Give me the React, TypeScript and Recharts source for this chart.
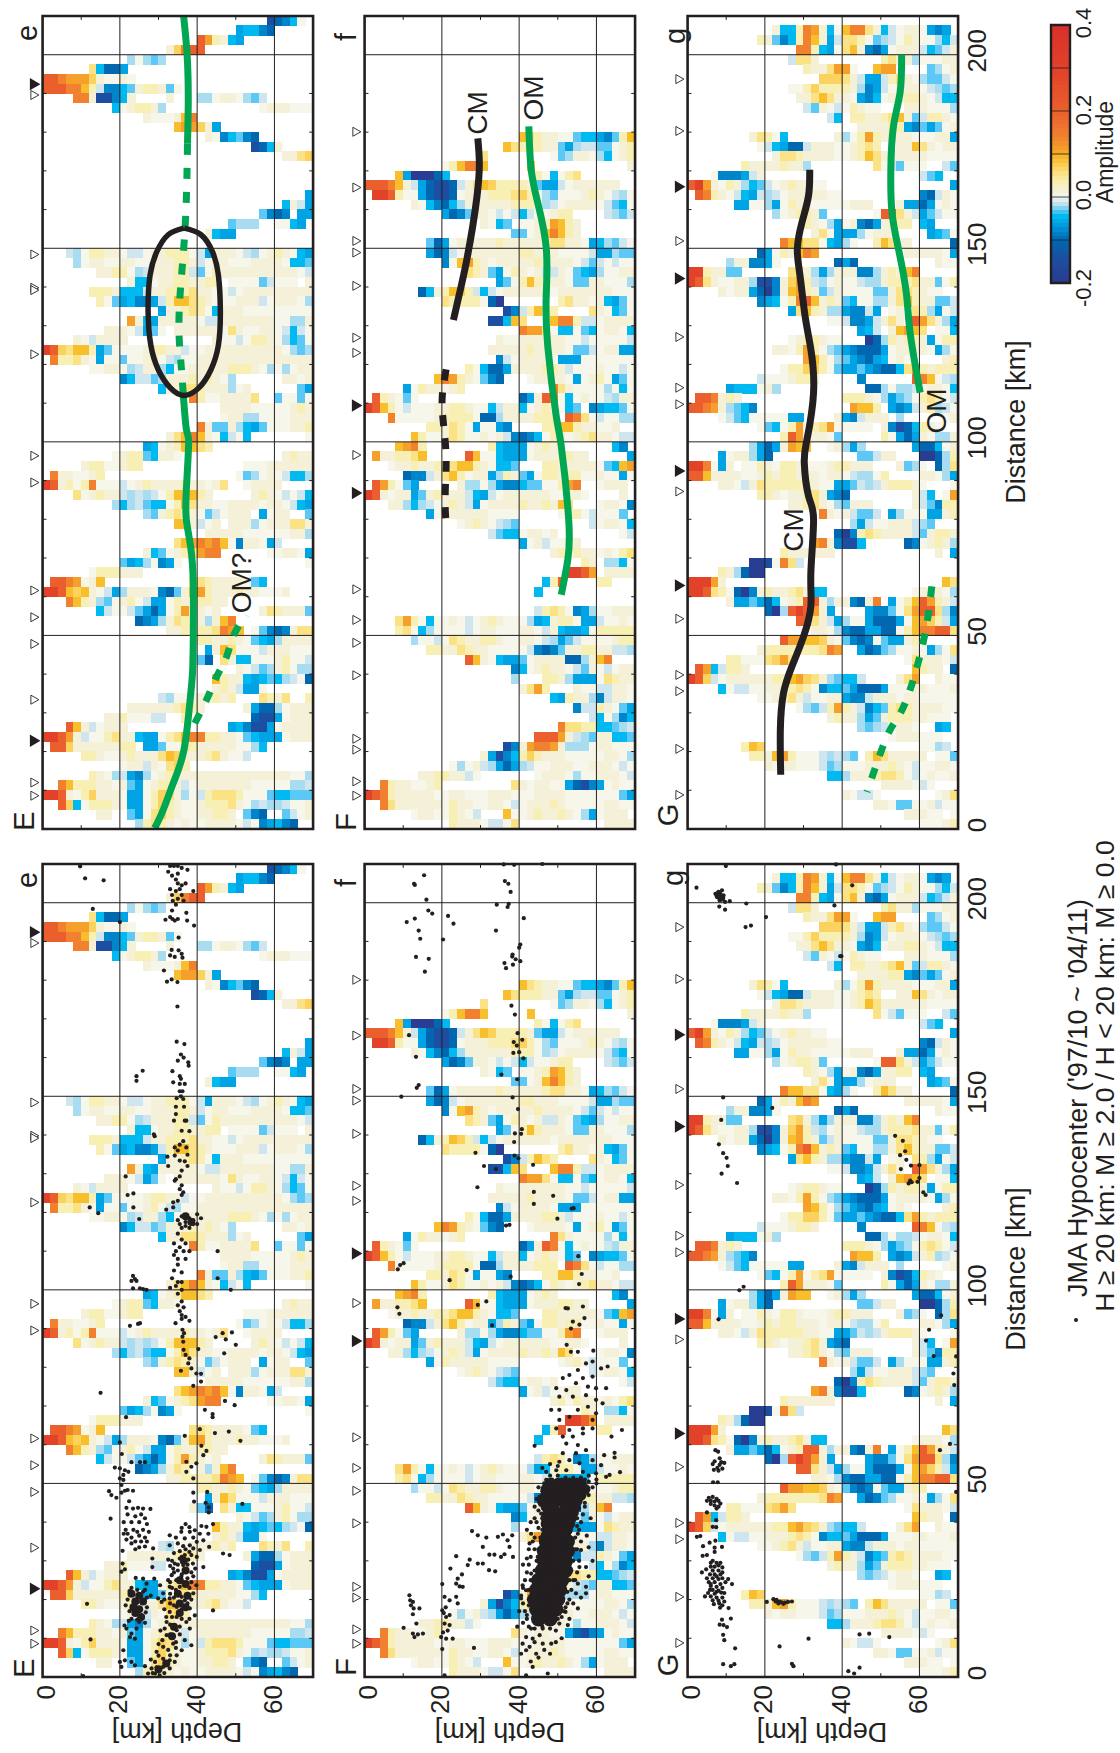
import React from "react";
import { ScatterChart, Scatter, XAxis, YAxis, ReferenceLine, ReferenceArea } from "recharts";

// ---------- amplitude letters used by the receiver-function rows ----------
const AMP: Record<string, number> = {
  N: -0.19, B: -0.14, C: -0.1, D: -0.08, E: -0.06, F: -0.045, G: -0.03, H: -0.02, I: -0.01,
  a: 0.003, b: 0.015, c: 0.035, d: 0.055, e: 0.07, n: 0.09, o: 0.11, p: 0.14, q: 0.2, r: 0.3, s: 0.38,
};
const colorStops: [number, string][] = [
  [-0.2, "#2b3990"], [-0.14, "#1c4fa1"], [-0.1, "#0067b0"], [-0.08, "#0085ca"], [-0.06, "#00a4e4"],
  [-0.045, "#00b9f1"], [-0.03, "#5cc8f5"], [-0.02, "#a8dcf0"], [-0.01, "#cfe6ee"], [0, "#f6f7ee"],
  [0.015, "#f4f1d8"], [0.035, "#f8efb4"], [0.055, "#fbe285"], [0.07, "#fcd25f"], [0.09, "#f8be2c"],
  [0.11, "#f5a02a"], [0.14, "#f1812f"], [0.2, "#ea5f2d"], [0.3, "#e2412a"], [0.4, "#d9302a"],
];

// Rows run from distance 207.5-210 km (first) to 0-2.5 km (last). Each token = first depth bin + letters.
const heatE = [
  "29BCDFa", "25EFFDC", "20qocbFE", "16bepqq", "11HaHGH", "6dFCCE", "0qqpoooebaaba", "0qqqppncIDDFGbccbGa",
  "4ppbBBDFb 16b 20HHabbaHGI", "9FabccbH 28abbbaaa", "13baaabnp", "17nooebE", "21baDFGDC", "27BCFb", "31bbde",
  "", "", "", "34E", "31FbIE", "28GDCD 33EE", "24GHHH 30aaFE", "21bFEE", "",
  "3IHaccbbaIIabbcccaIEbbbaIHabcbaFE", "4HabbaabbaabbbccbIabbaaabbbbaFFG", "7bbccaHIbbbccIGacbbbbbbbbbbaI",
  "11bFFabbccbbcc 24aaaaGIaaa 34b", "6cccbFFFIbbcccdbbaaIabbbbbbbbb", "7caGEFDDEIcnndcbaaabbbIabbbaH",
  "15EbbcdcaFbbbaaaaaaaaa", "11obFEbbbbbaIIbbbbbbbaaHHb", "8bbbaIEGa 17bbbbbbadbaabbaIFIa", "4baIbbbb 22baaIaccbaHFGa",
  "0rqednncEGaaaabccbbIaabbbbbbbbbbaHGH", "1pccdbaEaaGaabcaIHaabbbbbbbbbbbbbbb", "6aabbaHIbbHFaabbbbbcccbaHaHabb",
  "10DFIIGHbbbcbcba 24H 31bbab", "15Fbbddcbbb 24Hab 33GE", "19pcaabbbbd 30GaaGa", "23bbbbaaaaabcb", "23abbHHaaaabbb",
  "20pbGGbHFEGaaabbc", "16bdnpnbaFIaF 34a", "13EFabcnndc", "9abccGFbba 31bcbb", "5bccaabcc 26aaabbbbbb",
  "1pbbaabc 25aGHabaIFFH", "0rqbcacpaaaIabcbbbbcbbabd 26abbbb", "4dabcbbIHIHIacnnncb 27bcbaIaIF",
  "9HFHIGFFacndbbaabbbbabbaIFE", "13HGbcdcbaGIabbb 28Eabb 34G", "17nnbIab 24bbbHabbbddb", "21bbbbbaaaaaabbH",
  "17dnopopnaDbbaEI", "13bFGabcdopp 29aabbaE", "10GEFHaDEa 34a", "6acccbbb", "1qqpoabn 19ddcbbbbaGF",
  "0rrqnenbaIEHbbbaDCGbnocbbbcbbaaab", "3pncbHGabcaIEEacbbccbb", "7FIaaIGECEacocbab 28bdcbbbG", "12CDEHbdc 20bHbnp",
  "16bbccccdpon 27aGDCDbdd", "20ccbbcbaGFEHbbbb", "21EbndaaaIbbbaaa", "19bGC 23dbFFaaabcaaI", "25baIGHbcaHH",
  "22ncbbFEFGFHIaC", "22bcbIEEa", "15IHaabbbcbc 28dcbd 34c", "11bbbbbbcdcb 26bECCHabbb", "8bbcaaaII 18c 27CBBEabbb",
  "3qnbIabbb 24EFDBBEabbbb", "0rrqobIaacdbbFEEacdnppccbbaGFEEEabbb", "1qqebbbbbbcc 13EEGaadcbbbbbaaHF",
  "5ccbaabcbbbdnebbbcdbaaI", "10abbIbadec", "6cbaHIEDHabcbbbbbbbbbbbbbbbaaH", "2pncccbbabGEabccbIabbbbbbbaaaaaHHI",
  "0rrqbacebbbaEEacedbHaIcdddcaaaGFFGGG", "2qeFacccbaEEacecbaabcccdbaHIHHIaab", "7bb 11GEadecbaabbccb 26GDC 31GIab",
  "12HcdcbabaabbbbaIaDEFDC",
];
const heatF = [
  "", "", "", "", "", "", "", "", "", "", "", "",
  "20ndcbbaaGFFEDGcn", "18ndcccbbGEHIIGGabc", "15d 24aGHbbaHFabc", "10acnppn 21n 34b", "4nENNNCF 22caFacd",
  "0qqqpnbIECBBCIbdneccccbGEEIabbbbbb", "1rrqcaaECBBCabbbcccdecaHGaaabcbaIHa", "6baFDCFHbbbbbbcccaHIabbbbaIGFa",
  "10ECDGbbaIaIFIaabcc 31IHGI", "15baFG 20aabconcb", "19GGabnpncb", "8GCEabbbbbcbbbbbcddbbaEFHGIa",
  "8ECDIabbbbbbbccbbbaaaaIEEHGG", "10DanocbabbbbbcbbbbaIGIaIaa", "13dcbGEacbabIIbaGFEHaabb", "17EGacncbbbaGGbbaaaH",
  "7CFbcnecIFIabbbbbbabbbbbbbaaa", "10dccccaCN 25cdbbabFEGa", "18BDIcndc 29dbaFGa", "16BBFnd 24nppcIIabbbb",
  "20poodaFFaGFabbaF", "17baabbbbbbaaIaaaaaI", "16bbbbbcbbbbaGGIabbEE", "17DIabbbbaEEEaaaaaaa", "13caFCCEbbbbccbIaaabaaIa",
  "9npocbaGDC 21abbbbaEabcaEGa", "5Eacbbabc 24pdbaaaaHaFa", "1qcbaGa 20CEbqpaFabaaIHbb",
  "0rqncaIaaabbccbaaFIbbFabcbaFG 29DEFFGa", "3paaaaabccccaCCHbbbbccc 26qpdaIaaHH", "8ccbdcaEaaED 23ccnncbbaab",
  "6ncaabdcaababIDCDFacbabcdbbaII", "4nopc 16cFEEEabcb 32FD", "1obbccdn 13qnaaFEEEabbbccbb 34E", "3abbcbbccdnncbaFFG 23ccbbbbbaGFno",
  "5CDDIbdncabbEHcbGEaccbccaabaaEa", "1qocaGE 12bHHaHEDDFGGaacop 30abbb", "0rqbabbEGbcbbbIFEIabbbbbbaabba 33b",
  "3bbHFHIabcbIEabbbbcbbcbnd 30abbaD", "8Eacbbbbbaaaa 25abcaIaaaG", "12abcbaIHG 29IabbaF", "16IGFFabbab 33aI",
  "20EabIaabb", "24bcacbbabacd", "28cb 31HHFa", "26rrqo 31bbbb", "23Fcq 30cc", "22F", "",
  "22IcdcaDEHaabbb", "4docaFaabaIabcbaaaHEFbccaEEIaaba", "4cdaFHaaaaIabbaaabbaIbFEEFaccccc", "6HaaIadcbbccbaabbaIHEGIaaaabcc",
  "8ccbbdcbbaaaaaIDCDGbbccbbIIH", "13qnbaFEEGabbbbCCHbnp", "19DFabcbbaIGbaIabb", "19H 23ccbHEEEadcbb", "20bdoc 27baaIIbba",
  "24FEcbbHDIbba", "27DIIcbaGE", "29IFaHDF", "25pddccFFGHI", "22qqqobIHGbbFFG", "18BDboppobHHHabbaaa", "15bEBDFcecbbbaaaaabbaH",
  "11aHabIHECEHIaabbbaabbbaIa", "7bbccbbIa 22abbbaHaabbbaI", "2pcbbaabc 19dbabbaaECBDEabaa", "0rqpcbbbbbaabbaaabbbaaabbbbaaaaaaaGE",
  "2pdbbbbbbacbbaabbaIabbbcbaaaaabbaa", "6abbaacbaI 18naabcbbcbaHEabbb", "11cbbbaIIad 31bbbb",
];
const heatG = [
  "", "11bFFcpobFanppdbFIabbaEDE", "9cbGDFcpnbEIddcaGHIacbaaHFI", "14ppcFEadnbDCEabbbIFGIb", "13Iddb 25cdbbHaaabb",
  "15cbbdooa 24noo 31GHab", "17eeedbIEEIcdbaHGGIa", "13aaceccccbHDEIabbbaIHGH", "14bbdndbbaEDFabbccbaIFF", "15IGbaIacbaa 28bbbaaaH",
  "18IF 21ccbbcdnbGIccba", "22bbbbccEDGEGab", "8bdcaF 19bHacocbbbbaaabbE", "9aIFECCIbbbaabcdc 27bbndbabb",
  "11bddcbbbbaabcndbbbbbbaaaa", "7cbbbbcbbH 24daIGaaa 33IG", "3aDDDEIb 30IGF", "0qrobacbHFGIabcbbaa 34E",
  "1qpcbaIFEIHIabbbbbaa 30DCIba", "6EEaaHEacbbaaaaabbb 27bEECEaba", "11HabccbG 24aqqdbIEGIaa", "15cbaHEabDCEbbcc 30FE",
  "16bdaEEEHabbb 31EFGa", "12pnnddaFEHa 24cndbb 34C", "9CEacbnpo 28bbbbbaE", "5HbbDDEa 19CEC 32baa",
  "0rrcbbGG 13debHEHbbbDDHbcbnp", "0rqdbaabbHBBDbeocIHabaaIHHbcccdbbGac", "4babbECNDbnocbGIbaaaaGGbddcbaa",
  "9DEFacpqnbcbGFaaHHbdncbbGGI", "13EdncbHHEDDIE 26ab 29dcHEaI", "18aaIDDEIbdb 29qodbHE", "22EFI 26bnond 32aaF",
  "13abccbaa 23NCHcbccbEacc", "11bbacocaHGEDCCCEabbbbaEHa", "15oncaHGEDCEFaba 33bc", "12acceecaGEEGEDCCFdocbccc",
  "9Iaaabccb 22D 29qpnaIH", "5EFFFabH 23CCHaHHIabbaF", "1qqpbcb 20cccbaHEGHacdcaI", "0qqpobHGFD 21onnc 26EDEIbcHIa",
  "4aIGFaaaaaEE 19bEDIbbb 27H 33ab", "9aGFacoacdoaaaaa 25bDBCFcba", "12cqobbbaG 25caECEbaHHb", "8HECEbonn 18abHEH 29ECCFab",
  "4EabbHEC 22GGIbb 30NNCHc", "0rrpaEb 7aacbaccbaaabccbbb 27bGHa 32CHd", "0qqnbbbbaabcbccbbbabbaIHHac 30bbaHE",
  "4bbaIbdcccccbbaaEEGIHIbcccba 34a", "9ccbabbcdbEDC 29bIF 33ao", "13bbcdbaHGbbb 29bIGDcc", "17pbabIGGI 26EHaaaEEbc",
  "21HEIaabbbIHG", "19CNDcdcbbbbIGbccb", "16opbDBBF 28CDabcbH", "12cbbbbbb 32b 34E", "8NNBapdI", "4cbHCNN", "0rrrob 33nd",
  "0rrqdcaCNDbcbbcdbFF 29abbbaH", "5bEEGECFabcqqbHbbDCbp 26EacnqocbI", "10CNHqrqobE 23EDDGadoqqdHD", "14qqdbIEHaaECCCEanoecIE",
  "16bbaHDCCEECCacnppqqd", "12qoonnebaGDCDaGEEbcc", "9bcccccccdpo 22ECDGHaabaEHad", "5ccaaadeod 28adbbbaI", "1qoFIccb 29ncbb 34C",
  "0rqeIabbbbbbccnoedbHGFFI 27bdo 32baa", "4FaIIaabbbcdcaDFFGECCCEaaabbaaab", "9aabcdbIaabbEDDIbbbabbaaaaa", "14aHGIcocbIDFGcdcbbbbaa",
  "18bcbbHEGbcccbbaaa", "22HGHIabba 32EF", "26abbbaaa", "7cne 30aaHI", "8ccbnocaaaIHIHG 23cndbbbbb 32aaG",
  "10babbaaaIGHaaabbbcbaIaabba", "18FFHbbbcddcaIabaab", "25bbbbaIa", "20baIIa 32abd", "24bbaGGaabIaa", "28bbbaa 34a", "30aaabc",
];

// ---------- volcano-like markers (km along the profile) ----------
const openE = [189.6, 148.4, 139.8, 139.2, 122.6, 96.4, 89.5, 61.6, 54.7, 47.8, 33.4, 12, 8.6];
const solidE = [192.4, 22.8];
const openF = [180.1, 165.7, 151.9, 148.9, 140.3, 126.9, 123, 96.6, 61.9, 54, 48.1, 39.7, 23.3, 20.5, 12.3, 8.6];
const solidF = [109.4, 86.8];
const openG = [193.7, 180.3, 151.9, 127.1, 114, 109.7, 87.2, 54.3, 39.8, 35.6, 20.7, 8.8];
const solidG = [165.9, 142.2, 92.5, 62.9];

// ---------- hypocenters: depth, distance, depth, distance ... ----------
const dotsE = [
  9.7,209.4, 11,206.3, 15.8,205.8, 33,209.5, 34,209.5, 35,209.5, 36,209, 32.5,208, 35,207.5, 37.5,208.5, 33.5,207, 34.5,206, 35,205, 36,204.5, 37,205,
  33,203.5, 34.5,203, 35.5,203.5, 39,203, 33.5,202, 35,201, 36,202, 33.7,200.5, 36.5,200.5, 34.5,199.5, 33.5,198, 13,198.4, 20,195, 31.8,195.6, 33,196.3,
  33.6,195.8, 34.2,195.4, 35,195.8, 37.2,197.4, 37.4,195.4, 39.2,194.1, 35.2,191, 33.4,187.8, 35.2,187.7, 33,186.4, 34.2,186, 36,186.8, 36.2,185.8,
  31.4,182.5, 33.4,180.2, 32.2,179.6, 34.9,179.5, 34.9,173.2, 34.7,164.1, 36.7,163.5, 35.8,160.8, 36.5,160, 35,159.2, 37.7,158.8, 37.8,157.9, 25.9,156.6,
  24.3,155.2, 24.3,154, 33.6,156.5, 35.5,155.2, 35.8,154.5, 33.8,153.6, 35.5,153.2, 36.8,153.2, 35.5,151.3, 36.2,151.3, 35.8,150, 34.7,149.5, 36.4,149.3,
  34.5,147.3, 36.6,147.3, 34.5,145.4, 34,143.7, 36.8,143.7, 37.2,143.7, 36,141.1, 38,141, 28.8,140.2, 29,139.7, 36.4,138.4, 35.5,137.5, 34.2,136.8, 35,136,
  37.2,136.8, 32.3,134.4, 34.2,134.7, 37.5,134.9, 35.5,133.4, 36.8,133.2, 32.5,132, 37.5,132, 36,130.8, 21.5,129.3, 35.5,129.3, 34.5,128.6, 34.2,128.2,
  36,127, 35.5,126, 36.4,125.2, 23.5,124.9, 22,124.5, 36,124.5, 35,123, 33.8,122.6, 12.2,121.3, 23.5,121.3, 32,120.7, 14.4,119.8, 33.8,121.3, 25,118.3,
  36,119, 38,118.5, 40,119.5, 35,118, 37,117.5, 39,118, 41,118.5, 35.5,117, 37,116.5, 39,117, 36,116, 38,116, 40,117, 35,114.5, 36,113, 34,112, 35.5,111,
  37,112, 34.5,110, 36.5,110, 38,110, 34,109, 35,108, 37,108, 35,106.5, 34,105, 36,104.5, 33.5,103, 35,102, 36,102, 34.5,101, 36,100, 33,100.5, 45.3,110,
  23.4,103.6, 23.9,102.8, 23,102.3, 24.3,102.3, 23.4,100.4, 25.2,100.4, 26,100.2, 26.9,100, 45.3,103, 48.7,100, 35,99, 36,97, 35,96, 36.5,95.5, 35.5,94.5,
  36,93.5, 37,93, 36,92.5, 38,92, 22.6,90.7, 24.7,91.2, 25.2,91.4, 34.4,91.4, 36.2,89.7, 36.6,88.8, 36.2,87.9, 36.4,86.6, 36.5,84.5, 37,83.2, 38,82.3,
  37.7,81, 35.8,79.1, 38.5,79.7, 39.8,78.4, 41,78.3, 41,76.3, 39,75.2, 15,73.4, 44.8,87.8, 46.6,88.8, 47.4,87.2, 49,89, 50,85.8, 47,83.6, 40.3,84.7,
  47.2,71.3, 49.7,70.2, 42,69, 44,67.9, 44,67.1, 21.6,67.1, 40.7,64, 44.6,63, 48.2,63.4, 36.8,62.3, 51.2,61, 20,60.6, 41.1,59.7, 42.4,58.4, 20.5,57.6,
  41.6,57.3, 23,55.5, 25.2,55.5, 26.5,55.5, 37.2,55.6, 39.8,55.2, 38.5,54.3, 18.7,54.1, 20,53.9, 21.3,53.4, 22.2,53, 37.2,53, 20.9,52.2, 20,51.3, 20.9,50.9,
  39,51.3, 20.4,49.6, 22,48.3, 21.3,48.1, 23.4,48.1, 17.2,48, 17.8,47, 19.1,46.3, 20.4,47.6, 39,47.6, 42.6,47.8, 22.4,45.4, 39.2,45.3, 42.2,45, 51.7,44.7,
  43,43.8, 43,42.5, 17.6,40.9,
  21.7,43.7, 23.4,43.5, 24.7,43.7, 26,43.5, 27.9,43.4, 22,42, 24,41.5, 25.5,42, 26.5,41, 21,40, 23,40, 25,40, 27,39.5, 21.5,38, 23.5,38, 24.5,37.5, 26,38,
  27.5,37.5, 22,37, 23,36, 25,36.5, 26.5,36, 24,35, 25.5,35, 27,35, 23,34.5, 25,33.5, 26.5,33.7, 24,33, 21.7,35.5, 21,37,
  44.1,39.5, 42.4,38.8, 41.1,39, 39.4,37.9, 38.1,37.5, 35.9,37.5, 40.7,37, 42.9,37, 39,36, 36.8,35.8, 41.6,35.3, 39.9,34.9, 32.9,36.6, 32.9,34, 36.4,33.8,
  38.1,34, 43.1,33.6, 28.6,33.2, 39,33.2, 40.7,32.8, 46.7,31.9, 48.4,31.5, 20.7,32.6, 36.8,31.5, 38.5,31.5, 39.9,31, 35.5,30.6, 37.7,30.3, 28.4,30.6, 32.5,30.3,
  34.2,29.3, 36.4,28.9, 38.9,29.3, 20.7,29.3, 41.6,28.4, 28.4,28.4, 33.8,28, 37.2,27.6, 21.3,27.8, 20.4,27.2, 33.4,26.3, 35.9,25.9, 32.5,25, 34.6,25, 24.1,25.6,
  26,25.4, 28.9,25.4, 26.9,24.1, 30.4,23.7, 32.9,23.3, 35.5,23.3, 39.8,23.7, 39,21.6, 31.2,21.6, 29.9,20.3, 32.9,20.3, 36.8,19.8, 30.8,19.4, 11.5,18.9, 34.7,18.1,
  38.1,17.7, 32.9,16.8, 44.1,17.2, 39.4,15.9, 34.7,15.5, 32.1,14.2, 37.2,14.2, 31.6,12.5, 34.7,12.1, 38.1,12.5, 32.1,10.8, 36.8,9.5, 33.8,8.6, 38.5,8.2, 31.2,7.8,
  36,6.9, 34.7,5.6, 29.5,6.5, 31.2,4.7, 32.9,4.3, 34.2,3.9, 29.1,3.9, 31.2,2.6, 32.9,2.2, 28.2,2.2, 29.1,0.9, 30.3,0.4, 27.3,0.9, 10.5,0.2, 12.4,9.7,
  20.9,6.9, 21.3,4.3, 20,3.9, 20.4,2.6, 23,3.9, 23.9,3, 26.5,2.8, 21.7,12.5, 23,11.2, 23.9,9.9, 22.6,10.3, 24.3,12.5, 21.2,13.3, 22.3,14.5, 25,14.2, 22.5,22.2, 26.5,22.5,
  36,38.5, 37,39.5, 38,38.7, 34.5,36, 35,34.5, 37,33, 35.5,32.5, 34,32, 38,32.3, 36,31, 33.5,30, 35,29, 37.5,29, 39.5,28, 33,28.7, 35,27.5, 38.5,27, 34,27, 36,26.5, 39,26,
  33,24.5, 37.5,25.5, 38.5,24.5, 33.5,23, 34.5,22.5, 38,23, 33,21.5, 34,20.5, 36,20.7, 38.5,20, 31.5,20, 33,19, 37.5,19, 34,18.5, 36,17.5, 31.5,17.5, 33.5,15.5, 36,15, 38,15,
  32,15.5, 33,13.5, 35.5,13, 30.5,12, 33,11, 35.5,11, 31,9.5, 34.5,9, 30,8.5, 32.5,7, 34.5,7.5, 30,5.5, 33,5.6, 28,4.5, 31.8,3.2, 29.5,2.5, 28.5,1, 31.5,1,
  22,20, 23,23, 24.5,22.5, 26,22, 27,20.5, 27,18, 22.5,17, 26.7,16.7, 23,15, 24.5,14.8, 26.5,14, 21.5,18.5, 28,21,
];
const coreE = [
  36.5,30, 37,27.5, 35.5,25, 37,24, 35,21.5, 37.5,21, 35.5,19, 37,18, 35.5,16.5, 34,13, 33.5,10.5, 32,3.5, 30,2,
  23,21.5, 25,21, 24,19.5, 26,19.5, 23.5,18, 25,17.5, 24,16.5, 25.5,15.5, 37,119, 38.5,117.5,
];
const dotsF = [
  15.4,207.1, 12.8,204.9, 13,204.6, 16,200.8, 16.5,198, 17.5,197.2, 10.9,195, 13,195.9, 21.6,196.6, 23,194.6, 14,192.8, 14.4,190.7, 20.3,190.5, 13.3,186, 16.6,185.5, 15.6,182.2,
  36,209.9, 38.7,209.8, 46,210, 36.3,205.6, 37.2,204.9, 37.8,202.8, 34.2,199.5, 37.3,199.7, 37,198.9, 41.2,196, 34,192.8, 40.3,189.2, 40,188.4, 38.3,186.6, 38.2,186.1, 39.1,185.4,
  40.3,184.9, 36.2,184.4, 38.4,184, 36.6,183.1, 38,173.4, 38.9,171.1, 11.5,165.8, 39.6,166.3, 40.8,164.6, 38.6,164, 39.4,163.1, 38.5,161.2, 40,161.4, 13.3,160.2, 41.1,159.8,
  35.4,155.6, 39.5,154.4, 14,152.9, 13.5,152.2, 9.5,149.9, 38.3,149.7, 39.7,146.7, 40.7,141.5, 38.9,140.4, 40.5,140.3, 38.7,138.2, 28.7,135.4, 38.8,134.7, 39.8,134, 43.6,132.3,
  30.9,132, 34,131.2, 29.2,126.5, 43.8,125.3, 48.8,124.3, 43.8,122.2, 54.1,121.1, 53.6,121, 49.9,118.4, 36.6,116.6, 37.5,116.8, 55.3,108.7, 10.1,106.9, 9.2,106.4, 8.6,105.3,
  26.4,105.1, 56.2,104.1, 22,102.5, 37.8,103.4, 55.5,101.5, 8.5,95.5, 9,93.8, 31.5,97, 29.3,96.1, 33,90.8, 52,95.3, 52.6,95.2, 56.5,95.7, 56.9,92.7, 53.9,91.8, 53.4,90, 55.6,91,
  52.3,85.8, 53.4,84, 55.2,84, 59.2,84.3, 57.3,81, 59,81.5, 61.2,79.7, 62.9,80.2, 51.3,77.2, 53,78, 55.2,79.3, 56.5,77.2, 59,77.6, 49.6,74.6, 52.2,74.1, 54.7,75.9, 57.8,75,
  59.9,74.6, 62.5,74.6, 50.4,72.4, 53.9,72.4, 57.3,72.8, 59.9,71.6, 61.6,70.7, 48.3,69, 50.4,69, 55.2,69, 57.8,69.8, 59.9,68.1, 50.4,66.4, 53,67.2, 59,66.4, 49.6,64.2, 53,63.8,
  56.5,64.2, 59,64.2, 51.3,62.1, 53.9,62.1, 56.5,62.9, 63.9,62.1, 66.6,63.8, 44,59.7, 52.2,60.3, 55.2,59.9, 51.3,57.8, 54.7,57.8, 57.3,58.6, 64.7,57.9, 64.7,56.7, 62,57.3,
  50.4,55.6, 53,56, 55.6,55.2, 59,56, 61.2,54.7, 63.4,52.2, 66.1,52.9, 49.6,53.4, 52.2,53.4, 56.5,53, 59.9,52.6, 62.5,51.7,
  27.8,37.7, 29.3,36.6, 31.5,36, 34.5,36.2, 35.8,36.8, 38.2,36.6, 37,35.3, 30.6,33.6, 37.5,33.6, 32.3,31.6, 33.6,31.6, 35.3,31, 36.2,31.7, 38.4,31, 42,30.6, 23.7,31.2, 27.2,30.3,
  26.7,28.9, 29.3,29.3, 30.6,29.3, 22.2,28, 32.2,27.6, 33.8,27.3, 25.2,26.5, 24.1,25.4, 23.7,24.1, 20.1,24, 24.6,23.4, 25.4,23.3, 20.7,20.7, 23.7,20.7, 22,19.8, 24.1,19, 20.1,17.2,
  21.1,15.5, 22,16, 20.7,13.8, 22,13.4, 19.8,10.3, 21.1,9.9, 22.8,9.9, 20.1,7.2, 20.7,0.4, 28.3,7.5, 21,18, 20.5,16.5, 21.5,12, 20.3,11.5,
  11.6,21.1, 11.8,19.8, 12.5,19.4, 12,18.5, 12.7,17.7, 14.2,17.7, 12.5,16.2, 13.4,13.8, 10.1,12.7, 12.5,11.2, 13.8,11, 15.1,11.2, 12.9,10.3,
  41.8,0.4, 43.5,2.6, 40.5,6, 41.8,6.9, 44.4,6, 47.4,0.9, 40.9,8.6, 42.7,7.8, 46.1,8.6, 48.3,8.6, 41.8,10.3, 43.5,9.9, 45.3,10.8, 43.1,12.5, 46.1,12.5, 50.4,13.8, 52.6,13.4, 53,15,
  52,16.8, 55.2,17.7, 57.3,21.6, 54.7,21.6, 55.2,24.1, 57.3,23.3, 55.6,28.4, 57.3,28.4, 56,32.8, 55.2,37, 53.7,44.7, 41.8,22.4, 40.9,23.7, 40.5,20.3, 43.1,26.7, 44.8,31, 42.7,34.5,
  43.1,37, 44,41, 45.7,42.2, 45.3,46.6, 47.8,49.1, 47,50.9, 42,16, 41,14, 44,14.5, 47,15.5, 49.5,12, 42.5,18.5, 52,47, 56,48, 58,50.5, 60,50, 57,44, 55,41, 41,29, 44,36, 54,25, 52.5,19,
  45,49, 46,48, 44.5,46, 44,44, 45,43, 44.5,40, 45,38.5, 43.5,35, 44,33, 43,31, 42.5,29, 42,27, 41.5,25, 41,23, 40.5,21, 41,19, 41.5,17, 42,15, 42.5,13, 44,12.5, 46,13, 48,12.5,
  50,15, 51.5,17, 53,20, 53.5,22.5, 54.5,25, 55,27, 55.5,30, 55,33, 56,35, 55.5,38, 56,40, 56.5,42, 57,45, 58,47, 59,49, 60,51, 58,52, 56,51.5, 54,51.5, 52,51.5, 50,52, 48,52, 47,53,
  46,54, 48,55, 50,54.5, 43,40, 42,38, 42.5,33, 40,17, 39.5,13, 44,9, 46.5,7, 45,5, 43,4, 48,6, 49.5,9, 51,10, 54,19, 56,20.5, 58,26, 59,30, 58,33.5, 57.5,36.5, 58.5,41,
  48.5,51, 51,51, 53,51, 55,51, 57,51, 46.5,50, 46,47, 45.5,44.5, 46,41, 46,38, 45.5,36, 45,33, 44.5,30, 44,27.5, 43,25, 42.5,22.5, 42.5,20,
  56,46, 55.5,43.5, 55,39, 54.5,36, 54.5,33, 54,30, 53.5,27.5, 53,25, 52.5,22, 52,18, 51,15.5,
];
const midCoreF = [
  48,50, 50,50, 52,50, 54,50, 56,50, 47,48.5, 49.5,48.5, 52,48.5, 54.5,48.5, 57,48.5, 47,47, 49,47, 51.5,47, 54,47, 56,47, 46,45.5, 48.5,45.5, 50.5,45.5, 53,45.5, 55,45.5,
  47,44, 49,44, 52,44, 54.5,44, 47.5,42.5, 50,42.5, 52,42.5, 54,42.5, 47,41, 49,41, 51,41, 53.5,41, 47,39.5, 49,39.5, 51,39.5, 53,39.5, 47.5,38, 50,38, 52.5,38, 47,36.5, 49.5,36.5, 52,36.5,
];
const coreF = [
  47,35, 50,35, 52.5,35, 46.5,32.5, 49.5,32.5, 52.5,32.5, 46.5,30, 49,30, 52,30,
  46,27.5, 49,27.5, 52,27.5, 45,25, 48,25, 51,25, 44.5,22.5, 47.5,22.5, 50.5,22.5, 44,20, 47,20, 50,20, 44.5,17.5, 47.5,17.5, 49.5,17.5, 45,15, 48,15,
];
const dotsG = [
  9.9,209.5, 38.4,209.9, 2.3,203.9, 42.6,204.5, 7.2,202.3, 8,202.8, 8.9,203.2, 7.6,201.5, 8.4,201.5, 9.3,201.9, 8.3,200.6, 9.7,200.2, 10.9,200.4, 8.2,199, 9.7,198.2, 15.2,199.8,
  38,199.3, 20.3,196.3, 15,193.7, 16.4,194.1, 39.8,186.2, 39.5,186.2, 9.2,149.7, 21.9,147, 8.7,143.9, 53.7,139.8, 55.7,138.5, 8.1,137.6, 9.2,135.3, 56.3,135.8, 55,134.8, 10.1,134.1,
  56.6,133.6, 10.4,132, 57.8,132.1, 60,132.2, 55.2,131.2, 8.8,130, 60,128.9, 59.5,127.9, 57.6,128.2, 58,127.8, 57.2,127.5, 12.8,127.6, 61,125.2, 61.6,124.5, 14.5,100.8, 13.4,99.9,
  8,92.4, 65.6,93.4, 62.5,89.7, 61.7,86.9, 63.7,82.9, 69.5,82.8, 68.8,78.4, 69,75.4, 65.3,58.6, 67.9,60.2, 69.5,47.8, 7.2,58.6, 7.9,58.2, 8.3,56.5, 6.6,50.3, 7.8,50.3,
  7,55.7, 8.7,55.5, 9.5,55.3, 6.5,55, 8.3,54.8, 7.7,54, 9,53.8, 6.8,53.5, 8,53.3,
  5.5,46.3, 6.5,46.5, 7.5,46, 5,45.5, 6,45.5, 7,45.3, 8,45.5, 8.5,44.8, 6,44.7, 7,44.3, 8,44, 7.5,43.5, 5,42.5, 7.4,40.5, 6.5,38.8, 7.4,38.7, 2.4,36.2, 3.3,36.4, 5.7,34.7, 7.2,35.2,
  4,33.8, 8.9,33.6, 7,33.4, 3.9,31.3, 5,31.5, 7,32.3,
  6.5,30, 7.5,29.5, 8.5,29.5, 6,28.5, 7,28.5, 8,28.8, 9,28.3, 6.5,27.5, 8,27.5, 3.7,27, 5.8,26.5, 7,26.5, 8.5,26.5, 5,25.5, 6.5,25.5, 8,25.3, 9,25.5, 10.5,25.3, 5.5,24.5, 7,24.5,
  8.5,24, 11.5,24, 6,23.5, 7.5,23.3, 9,23, 6.5,22.5, 8,22.3, 5.3,21.7, 7,21.5, 9.5,21.7, 4.5,20.8, 6,20.8, 7.5,20.5, 9,20.5, 6.5,19.8, 8,19.7, 9.5,19.5,
  6,29.5, 9,27, 4.8,27.8, 7.5,26, 6,24, 9.8,24.5, 7.5,22, 8.7,21.8, 5.8,22.5, 8.2,19, 9,18.5, 6.8,18.8,
  8.4,17.9, 10.6,17.8, 8.9,14.8, 11.2,15.1, 8.3,13.5, 9.3,13.4, 10.2,12.9, 9.2,10.9, 9.5,9.5, 12.3,7.4, 9.2,3.3, 12.1,3.3, 11.2,2.8,
  20.5,19.4, 22.2,20.1, 23,19.9, 23.7,19.5, 24.3,19.3, 25.2,19.2, 26,19.4, 27,19.5, 22.8,19.5, 23.5,19, 24.8,18.9,
  31.3,9.9, 23.8,7.9, 27,3.4, 27.4,2.8, 44.5,11, 47,11.2, 52.2,10.3, 41.6,1.5, 43.1,0.9, 44.5,2.4,
];
const coreG = [8,202, 8.7,201.3];

// ---------- interpreted boundaries: depth, distance pairs ----------
const omE1 = [36.5,210, 37.4,200, 37.7,188.5, 37.5,177];
const omEdash = [37.5,177, 37.2,162.6, 36.5,149.7, 35.5,136.8, 35.3,128.2, 35.6,123, 36.2,115.3];
const omE2 = [36.2,115.3, 37.2,103.3, 37.8,99.7, 37.2,87.7, 37.2,79.9, 38.3,73, 39,63.5, 39,49.7, 38.8,40.3, 38,31.6, 36.5,20, 33.8,11.8, 31.2,4.9, 29,0.2];
const omEq = [39.4,27.3, 42.8,34.2, 45,39.3, 47.6,44.5, 49.3,49.7, 52.6,55.3];
const ellipseE = [36.6,155.2, 41,153.5, 44,149, 45.5,143, 46,134, 45.5,125, 43.5,118.5, 40.5,114, 36.6,112, 33,114, 30,118.5, 28,125, 27.3,134, 27.8,143, 29.5,149, 32.5,153.5, 36.6,155.2];
const cmF = [29.3,178.4, 29.7,171.3, 29.1,163.5, 28,155.8, 26.3,146.3, 24.6,138.5, 23,131.5];
const cmFdash = [21.1,118.7, 20.1,111.8, 20.3,105.8, 20.9,99.7, 21.1,94.1, 20.9,88, 20.9,82, 21.3,77.3];
const omF = [42.5,181.5, 43.1,170.4, 44.8,161.8, 47,150.2, 47,137.7, 47.4,124.7, 49.6,106.6, 50.9,98.9, 52.8,80.3, 52.6,69.6, 50.9,60.5];
const cmG = [31.6,170.3, 31.3,163.6, 29.6,156.7, 28.4,149.8, 29.1,142.9, 30.4,132.5, 31.9,123.9, 32.6,112.7, 30.9,100.6, 30.2,94.6, 31.3,86, 32.6,80, 31.9,66.2, 31.9,57.5, 30,49.7, 27,42, 24.8,35, 24,25.6, 24.1,14];
const omG = [55.4,200, 55,190.3, 53.3,181.7, 52.6,170.4, 52.9,159.2, 54.6,149.7, 56.6,138.5, 57.6,128.1, 60.2,112.7];
const omGdash = [63.2,62.7, 61,48.4, 56.3,32.5, 52.4,25.6, 49,17, 46.4,9.6];

// ---------- axes ----------
const depthTicks = [0, 20, 40, 60];
const distTicks = [0, 50, 100, 150, 200];
const depthGrid = [20, 40, 60];
const distGrid = [50, 100, 150, 200];
const depthMinor = [10, 30, 50];
const distMinor = [10, 20, 30, 40, 60, 70, 80, 90, 110, 120, 130, 140, 160, 170, 180, 190];
const barLevels = [
  -0.2, -0.19, -0.18, -0.17, -0.16, -0.15, -0.14, -0.13, -0.12, -0.11, -0.1, -0.09, -0.08, -0.07, -0.06, -0.05, -0.04, -0.03, -0.02, -0.01,
  0, 0.01, 0.02, 0.03, 0.04, 0.05, 0.06, 0.07, 0.08, 0.09, 0.1, 0.11, 0.12, 0.13, 0.14, 0.15, 0.16, 0.17, 0.18, 0.19,
  0.2, 0.21, 0.22, 0.23, 0.24, 0.25, 0.26, 0.27, 0.28, 0.29, 0.3, 0.31, 0.32, 0.33, 0.34, 0.35, 0.36, 0.37, 0.38, 0.39,
];
const barTicks = [-0.1, 0, 0.1, 0.2, 0.3];

// ---------- helpers ----------
const INK = "#231f20";
const GREEN = "#00a651";
const FONT = "'Liberation Sans', Arial, sans-serif";
const hex = (h: string) => [1, 3, 5].map((i) => parseInt(h.slice(i, i + 2), 16));
function ampColor(v: number) {
  for (let i = 1; i < colorStops.length; i++) {
    if (v <= colorStops[i][0]) {
      const [a, ca] = colorStops[i - 1];
      const [b, cb] = colorStops[i];
      const t = Math.max(0, (v - a) / (b - a));
      const A = hex(ca), B = hex(cb);
      return `rgb(${A.map((c, k) => Math.round(c + (B[k] - c) * t)).join(",")})`;
    }
  }
  return colorStops[colorStops.length - 1][1];
}
function cells(rows: string[]) {
  const out: { x: number; y: number; fill: string }[] = [];
  rows.forEach((row, i) => {
    const y = (rows.length - 1 - i) * 2.5 + 1.25;
    for (const m of row.matchAll(/(\d+)([A-Za-z]+)/g)) {
      const start = +m[1];
      [...m[2]].forEach((ch, k) => {
        if (AMP[ch] !== undefined && start + k < 35) out.push({ x: (start + k) * 2 + 1, y, fill: ampColor(AMP[ch]) });
      });
    }
  });
  return out;
}
function pts(list: number[]) {
  const out: { x: number; y: number }[] = [];
  for (let i = 0; i + 1 < list.length; i += 2) out.push({ x: list[i], y: list[i + 1] });
  return out;
}
const MARK_DEPTH = -2;
const ptsAt = (ys: number[]) => ys.map((y) => ({ x: MARK_DEPTH, y }));

// ---------- one panel ----------
const PW = 270.5;
const PH = 813;
const DEPTH_MIN = -3; // the axis starts above the surface so that the markers have room
const PAD = (-DEPTH_MIN * PW) / 70;
const ML = 8, MT = 6, MR = 6, MB = 6;
const X0 = ML + PAD;
const CW = (2 * PW) / 70 + 0.4;
const CH = (2.5 * PH) / 210 + 0.4;

const HeatCell = (p: any) => (
  <rect x={p.cx - CW / 2} y={p.cy - CH / 2} width={CW} height={CH} fill={p.payload.fill} shapeRendering="crispEdges" />
);
const Dot2 = (p: any) => <circle cx={p.cx} cy={p.cy} r={2.1} fill={INK} />;
const Dot4 = (p: any) => <circle cx={p.cx} cy={p.cy} r={4} fill={INK} />;
const Dot5 = (p: any) => <circle cx={p.cx} cy={p.cy} r={5.6} fill={INK} />;
const Dot7 = (p: any) => <circle cx={p.cx} cy={p.cy} r={7.5} fill={INK} />;
const NoPoint = () => null;
const OpenTri = (p: any) => (
  <path d={`M${p.cx - 4},${p.cy - 4.5}L${p.cx + 4},${p.cy}L${p.cx - 4},${p.cy + 4.5}Z`} fill="#fff" stroke={INK} strokeWidth={0.9} />
);
const SolidTri = (p: any) => (
  <path d={`M${p.cx - 5},${p.cy - 6.2}L${p.cx + 5.6},${p.cy}L${p.cx - 5},${p.cy + 6.2}Z`} fill={INK} />
);

type Curve = { data: number[]; color: string; width?: number; dash?: string };
type PanelProps = {
  left: number; top: number; rows: string[]; open: number[]; solid: number[];
  dots?: number[]; core?: number[]; midCore?: number[]; bigCore?: number[]; curves?: Curve[];
  depthLabels?: boolean; distLabels?: boolean;
};

function Panel({ left, top, rows, open, solid, dots, core, midCore, bigCore, curves, depthLabels, distLabels }: PanelProps) {
  const XH = depthLabels ? 44 : 0;
  const YW = distLabels ? 50 : 0;
  const heat = cells(rows);
  const depthTick = (p: any) => (
    <text transform={`translate(${p.x + (p.payload.value === 0 ? 3 : -1.5)},${MT + PH + 8}) rotate(-90)`} textAnchor="end" dominantBaseline="central"
      fontFamily={FONT} fontSize={26} fill={INK}>{p.payload.value}</text>
  );
  const distTick = (p: any) => (
    <text transform={`translate(${X0 + PW + 18.5},${p.y - 4}) rotate(-90)`} textAnchor="middle" dominantBaseline="central"
      fontFamily={FONT} fontSize={26} fill={INK}>{p.payload.value}</text>
  );
  return (
    <div style={{ position: "absolute", left: left - X0, top: top - MT }}>
      <ScatterChart width={X0 + PW + MR + YW} height={PH + MT + MB + XH} margin={{ left: ML, right: MR, top: MT, bottom: MB }}>
        <XAxis type="number" dataKey="x" domain={[DEPTH_MIN, 70]} ticks={depthTicks} interval={0} hide={!depthLabels} height={XH}
          axisLine={false} tickLine={false} tick={depthTick} />
        <YAxis type="number" dataKey="y" domain={[0, 210]} ticks={distTicks} interval={0} hide={!distLabels} width={YW} orientation="right"
          axisLine={false} tickLine={false} tick={distTick} />
        <Scatter data={heat} shape={HeatCell} isAnimationActive={false} zIndex={100} />
        {depthGrid.map((x) => <ReferenceLine key={`dg${x}`} x={x} stroke={INK} strokeWidth={1} zIndex={200} />)}
        {distGrid.map((y) => <ReferenceLine key={`yg${y}`} segment={[{ x: 0, y }, { x: 70, y }]} stroke={INK} strokeWidth={1} zIndex={200} />)}
        {depthMinor.map((x) => <ReferenceLine key={`dt${x}`} segment={[{ x, y: 210 }, { x, y: 209 }]} stroke={INK} strokeWidth={1} zIndex={200} />)}
        {depthMinor.map((x) => <ReferenceLine key={`db${x}`} segment={[{ x, y: 0 }, { x, y: 1 }]} stroke={INK} strokeWidth={1} zIndex={200} />)}
        {distMinor.map((y) => <ReferenceLine key={`yl${y}`} segment={[{ x: 0, y }, { x: 1, y }]} stroke={INK} strokeWidth={1} zIndex={200} />)}
        {distMinor.map((y) => <ReferenceLine key={`yr${y}`} segment={[{ x: 70, y }, { x: 69, y }]} stroke={INK} strokeWidth={1} zIndex={200} />)}
        {bigCore && <Scatter data={pts(bigCore)} shape={Dot7} isAnimationActive={false} zIndex={300} />}
        {midCore && <Scatter data={pts(midCore)} shape={Dot5} isAnimationActive={false} zIndex={300} />}
        {core && <Scatter data={pts(core)} shape={Dot4} isAnimationActive={false} zIndex={300} />}
        {dots && <Scatter data={pts(dots)} shape={Dot2} isAnimationActive={false} zIndex={300} />}
        {(curves || []).map((c, i) => (
          <Scatter key={i} data={pts(c.data)} shape={NoPoint} isAnimationActive={false} zIndex={400} lineJointType="natural"
            line={{ stroke: c.color, strokeWidth: c.width ?? 7, strokeDasharray: c.dash, fill: "none" }} />
        ))}
        <Scatter data={ptsAt(open)} shape={OpenTri} isAnimationActive={false} zIndex={450} />
        <Scatter data={ptsAt(solid)} shape={SolidTri} isAnimationActive={false} zIndex={450} />
        <ReferenceArea x1={0} x2={70} y1={0} y2={210} fill="none" stroke={INK} strokeWidth={2.6} zIndex={500} />
      </ScatterChart>
    </div>
  );
}

const BarCell = (p: any) => (
  <rect x={p.cx - 9.5} y={p.cy - 2.35} width={19} height={4.7} fill={p.payload.fill} shapeRendering="crispEdges" />
);
function ColorBar() {
  const data = barLevels.map((v) => ({ x: 0.5, y: v + 0.005, fill: ampColor(v + 0.005) }));
  return (
    <div style={{ position: "absolute", left: 1045, top: 20 }}>
      <ScatterChart width={31} height={268} margin={{ left: 6, right: 6, top: 5, bottom: 5 }}>
        <XAxis type="number" dataKey="x" domain={[0, 1]} hide />
        <YAxis type="number" dataKey="y" domain={[-0.2, 0.4]} hide />
        <Scatter data={data} shape={BarCell} isAnimationActive={false} zIndex={100} />
        {barTicks.map((y) => <ReferenceLine key={y} y={y} stroke={INK} strokeWidth={0.8} zIndex={200} />)}
        <ReferenceArea x1={0} x2={1} y1={-0.2} y2={0.4} fill="none" stroke={INK} strokeWidth={2.4} zIndex={500} />
      </ScatterChart>
    </div>
  );
}

// ---------- page-level text: [label, centre x, centre y, rotation, size] ----------
const pageTexts: [string, number, number, number, number][] = [
  ["e", 27, 33, -90, 29], ["E", 24, 821, -90, 29], ["f", 346, 37, -90, 29], ["F", 346, 822, -90, 29], ["g", 675, 36, -90, 29], ["G", 668, 815, -90, 29],
  ["e", 27, 880, -90, 29], ["E", 24, 1668, -90, 29], ["f", 346, 883, -90, 29], ["F", 346, 1667, -90, 29], ["g", 673, 878, -90, 29], ["G", 668, 1665, -90, 29],
  ["Depth [km]", 177, 1732, 180, 27], ["Depth [km]", 500, 1732, 180, 27], ["Depth [km]", 822, 1732, 180, 27],
  ["Distance [km]", 1016, 422, -90, 27], ["Distance [km]", 1016, 1269, -90, 27],
  ["JMA Hypocenter ('97/10 ~ '04/11)", 1078, 1098, -90, 27],
  ["H ≥ 20 km: M ≥ 2.0 / H < 20 km: M ≥ 0.0", 1105, 1076, -90, 26.6],
  ["0.4", 1083, 23, -90, 22], ["0.2", 1083, 110, -90, 22], ["0.0", 1083, 195, -90, 22], ["-0.2", 1083, 288, -90, 22],
  ["Amplitude", 1105, 152, -90, 23],
  ["OM?", 241, 583, -90, 28], ["CM", 477, 113, -90, 28], ["OM", 533, 98, -90, 28], ["OM", 936, 411, -90, 28], ["CM", 793, 530, -90, 28],
];

export default function App() {
  const P1 = 42.5, P2 = 365, P3 = 687.3;
  const T1 = 16, T2 = 863.5;
  return (
    <div style={{ position: "absolute", left: 0, top: 0, width: 1120, height: 1753, overflow: "hidden", background: "#fff" }}>
      <Panel left={P1} top={T2} rows={heatE} open={openE} solid={solidE} dots={dotsE} core={coreE} depthLabels />
      <Panel left={P2} top={T2} rows={heatF} open={openF} solid={solidF} dots={dotsF} midCore={midCoreF} bigCore={coreF} depthLabels />
      <Panel left={P3} top={T2} rows={heatG} open={openG} solid={solidG} dots={dotsG} core={coreG} depthLabels distLabels />
      <Panel left={P1} top={T1} rows={heatE} open={openE} solid={solidE} curves={[
        { data: omE1, color: GREEN }, { data: omEdash, color: GREEN, dash: "11 13" }, { data: omE2, color: GREEN },
        { data: omEq, color: GREEN, dash: "11 13" }, { data: ellipseE, color: INK, width: 5.5 },
      ]} />
      <Panel left={P2} top={T1} rows={heatF} open={openF} solid={solidF} curves={[
        { data: cmF, color: INK }, { data: cmFdash, color: INK, dash: "11 12" }, { data: omF, color: GREEN },
      ]} />
      <Panel left={P3} top={T1} rows={heatG} open={openG} solid={solidG} distLabels curves={[
        { data: cmG, color: INK }, { data: omG, color: GREEN }, { data: omGdash, color: GREEN, dash: "11 13" },
      ]} />
      <ColorBar />
      <svg width={1120} height={1753} style={{ position: "absolute", left: 0, top: 0, pointerEvents: "none" }}>
        {pageTexts.map(([t, x, y, r, s], i) => (
          <text key={i} transform={`translate(${x},${y}) rotate(${r})`} textAnchor="middle" dominantBaseline="central"
            fontFamily={FONT} fontSize={s} fill={INK}>{t}</text>
        ))}
        <circle cx={1076} cy={1320} r={2} fill={INK} />
      </svg>
    </div>
  );
}
